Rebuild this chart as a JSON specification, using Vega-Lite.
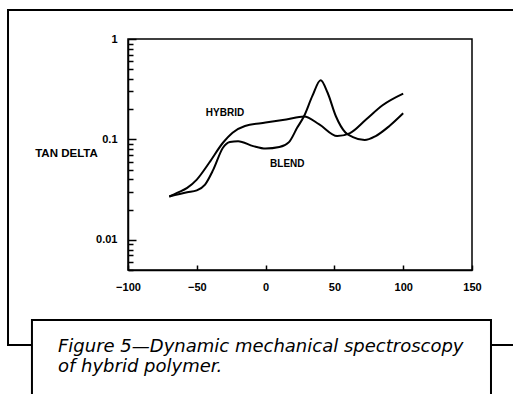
{
  "$schema": "https://vega.github.io/schema/vega-lite/v6.json",
  "width": 344,
  "height": 231,
  "autosize": {"type": "none"},
  "padding": {"left": 128, "top": 39, "right": 41, "bottom": 124},
  "background": "white",
  "config": {"view": {"stroke": "black", "strokeWidth": 1.5}, "font": "Liberation Sans"},
  "layer": [
    {
      "data": {"values": [{}]},
      "mark": {"type": "rect", "filled": false, "stroke": "black", "strokeWidth": 2},
      "encoding": {
        "x": {"datum": -187.2, "type": "quantitative"},
        "x2": {"datum": 200},
        "y": {"datum": 1.945, "type": "quantitative"},
        "y2": {"datum": 0.000896}
      }
    },
    {
      "data": {"values": [{}]},
      "mark": {"type": "rect", "fill": "white", "stroke": "black", "strokeWidth": 2},
      "encoding": {
        "x": {"datum": -169.8, "type": "quantitative"},
        "x2": {"datum": 163.8},
        "y": {"datum": 0.001589, "type": "quantitative"},
        "y2": {"datum": 0.00016}
      }
    },
    {
      "data": {"values": [{}]},
      "mark": {"type": "text", "text": ["Figure 5\u2014Dynamic mechanical spectroscopy", "of hybrid polymer."], "align": "left", "baseline": "alphabetic", "font": "DejaVu Sans", "fontStyle": "italic", "fontSize": 18, "lineHeight": 20, "color": "black"},
      "encoding": {
        "x": {"datum": -150.9, "type": "quantitative"},
        "y": {"datum": 0.000762, "type": "quantitative"}
      }
    },
    {
      "data": {"values": [
        {"series": "HYBRID", "T": -70, "tan": 0.027},
        {"series": "HYBRID", "T": -64, "tan": 0.0295},
        {"series": "HYBRID", "T": -57, "tan": 0.0329},
        {"series": "HYBRID", "T": -50, "tan": 0.0398},
        {"series": "HYBRID", "T": -41, "tan": 0.0585},
        {"series": "HYBRID", "T": -31, "tan": 0.0926},
        {"series": "HYBRID", "T": -24, "tan": 0.1166},
        {"series": "HYBRID", "T": -15, "tan": 0.136},
        {"series": "HYBRID", "T": 0, "tan": 0.147},
        {"series": "HYBRID", "T": 15, "tan": 0.158},
        {"series": "HYBRID", "T": 28, "tan": 0.169},
        {"series": "HYBRID", "T": 39, "tan": 0.141},
        {"series": "HYBRID", "T": 52, "tan": 0.108},
        {"series": "HYBRID", "T": 61, "tan": 0.115},
        {"series": "HYBRID", "T": 73, "tan": 0.158},
        {"series": "HYBRID", "T": 85, "tan": 0.219},
        {"series": "HYBRID", "T": 100, "tan": 0.286},
        {"series": "BLEND", "T": -70, "tan": 0.027},
        {"series": "BLEND", "T": -57, "tan": 0.0297},
        {"series": "BLEND", "T": -50, "tan": 0.0311},
        {"series": "BLEND", "T": -44, "tan": 0.0355},
        {"series": "BLEND", "T": -38, "tan": 0.05},
        {"series": "BLEND", "T": -31, "tan": 0.0826},
        {"series": "BLEND", "T": -26, "tan": 0.094},
        {"series": "BLEND", "T": -20, "tan": 0.096},
        {"series": "BLEND", "T": -9, "tan": 0.0857},
        {"series": "BLEND", "T": 0, "tan": 0.081},
        {"series": "BLEND", "T": 10, "tan": 0.0838},
        {"series": "BLEND", "T": 17, "tan": 0.094},
        {"series": "BLEND", "T": 23, "tan": 0.131},
        {"series": "BLEND", "T": 28, "tan": 0.171},
        {"series": "BLEND", "T": 34, "tan": 0.271},
        {"series": "BLEND", "T": 40, "tan": 0.389},
        {"series": "BLEND", "T": 45, "tan": 0.293},
        {"series": "BLEND", "T": 51, "tan": 0.171},
        {"series": "BLEND", "T": 58, "tan": 0.117},
        {"series": "BLEND", "T": 63, "tan": 0.106},
        {"series": "BLEND", "T": 72, "tan": 0.0985},
        {"series": "BLEND", "T": 80, "tan": 0.108},
        {"series": "BLEND", "T": 90, "tan": 0.136},
        {"series": "BLEND", "T": 100, "tan": 0.182}
      ]},
      "mark": {"type": "line", "interpolate": "monotone", "color": "black", "strokeWidth": 2},
      "encoding": {
        "x": {
          "field": "T", "type": "quantitative",
          "scale": {"domain": [-100, 150], "nice": false, "zero": false},
          "axis": {
            "values": [-100, -50, 0, 50, 100, 150],
            "title": null, "grid": false,
            "tickSize": -5, "tickColor": "black", "tickWidth": 1.5,
            "domainColor": "black", "domainWidth": 1.5,
            "labelFont": "Liberation Sans", "labelFontWeight": "bold", "labelFontSize": 11,
            "labelColor": "black", "labelPadding": 16, "labelFlush": false, "labelOverlap": false
          }
        },
        "y": {
          "field": "tan", "type": "quantitative",
          "scale": {"type": "log", "domain": [0.005, 1], "nice": false},
          "axis": {
            "values": [0.005, 0.006, 0.007, 0.008, 0.009, 0.01, 0.02, 0.03, 0.04, 0.05, 0.06, 0.07, 0.08, 0.09, 0.1, 0.2, 0.3, 0.4, 0.5, 0.6, 0.7, 0.8, 0.9, 1],
            "labelExpr": "datum.value === 1 ? '1' : datum.value === 0.1 ? '0.1' : datum.value === 0.01 ? '0.01' : ''",
            "tickSize": {"condition": {"test": "datum.value === 1 || datum.value === 0.1 || datum.value === 0.01", "value": -8}, "value": -5},
            "tickColor": "black", "tickWidth": 1.5, "grid": false,
            "domainColor": "black", "domainWidth": 1.5,
            "labelFont": "Liberation Sans", "labelFontWeight": "bold", "labelFontSize": 11,
            "labelColor": "black", "labelPadding": 19, "labelOverlap": false, "labelFlush": false,
            "title": "TAN DELTA", "titleAngle": 0, "titleFont": "Liberation Sans", "titleFontWeight": "bold",
            "titleFontSize": 11.5, "titleColor": "black", "titleAlign": "center", "titleBaseline": "middle",
            "titleX": -62, "titleY": 114
          }
        },
        "detail": {"field": "series"}
      }
    },
    {
      "data": {"values": [
        {"label": "HYBRID", "T": -29.5, "tan": 0.183},
        {"label": "BLEND", "T": 15.8, "tan": 0.0569}
      ]},
      "mark": {"type": "text", "font": "Liberation Sans", "fontWeight": "bold", "fontSize": 10, "color": "black", "align": "center", "baseline": "middle"},
      "encoding": {
        "x": {"field": "T", "type": "quantitative"},
        "y": {"field": "tan", "type": "quantitative"},
        "text": {"field": "label"}
      }
    }
  ]
}
